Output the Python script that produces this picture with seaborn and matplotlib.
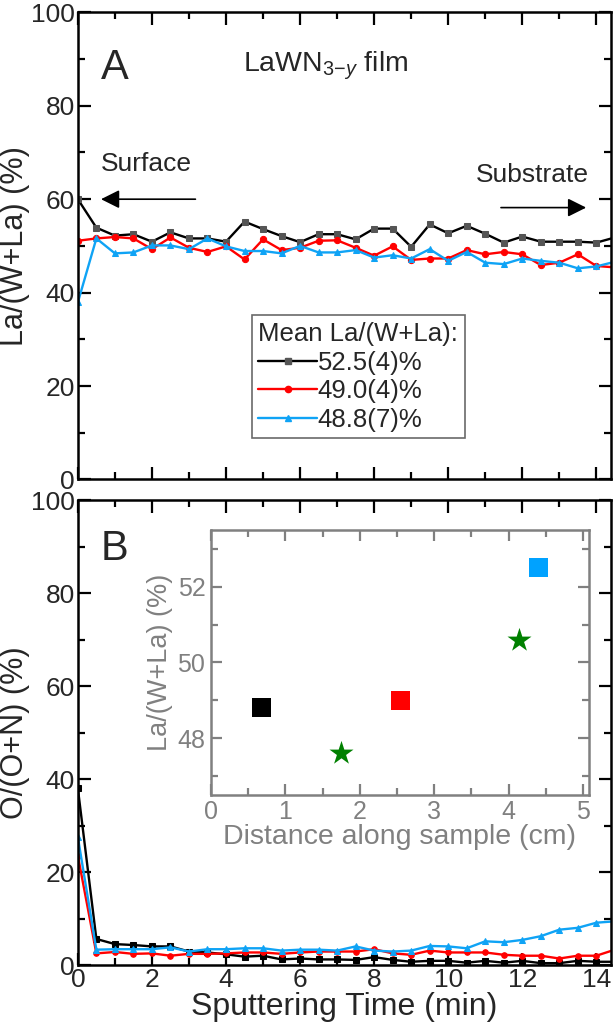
import matplotlib
matplotlib.use("Agg")
import matplotlib.pyplot as plt
from matplotlib.ticker import MultipleLocator
from matplotlib.lines import Line2D
import pandas as pd
import seaborn as sns

# sputtering time (min)
time_min = [0.0, 0.5, 1.0, 1.5, 2.0, 2.5, 3.0, 3.5, 4.0, 4.5, 5.0, 5.5, 6.0, 6.5, 7.0,
            7.5, 8.0, 8.5, 9.0, 9.5, 10.0, 10.5, 11.0, 11.5, 12.0, 12.5, 13.0, 13.5, 14.0, 14.5]

# panel A: La/(W+La) (%)
la_black = [60.0, 53.9, 52.2, 52.5, 50.9, 52.9, 51.6, 51.6, 50.9, 55.2, 53.6, 52.1, 50.8, 52.5, 52.5,
            51.4, 53.7, 53.7, 49.8, 54.6, 52.7, 54.3, 52.6, 50.7, 52.0, 50.9, 50.9, 50.9, 50.7, 51.8]
la_red = [51.1, 51.6, 51.9, 51.6, 49.3, 51.8, 49.6, 48.7, 49.9, 47.1, 51.4, 49.1, 49.6, 51.1, 51.2,
          49.6, 47.9, 49.9, 47.0, 47.3, 47.3, 49.1, 48.2, 48.7, 48.2, 45.9, 46.4, 48.2, 45.7, 45.4]
la_blue = [37.9, 51.6, 48.4, 48.6, 50.1, 50.1, 49.3, 51.6, 49.9, 48.9, 48.9, 48.4, 50.0, 48.6, 48.6,
           49.1, 47.5, 48.0, 47.3, 49.3, 46.8, 48.7, 46.4, 46.1, 47.3, 46.8, 46.4, 45.2, 45.6, 46.6]

# panel B: O/(O+N) (%)
o_black = [38.0, 5.6, 4.5, 4.3, 4.0, 4.0, 2.9, 2.7, 2.3, 1.8, 2.0, 1.2, 1.4, 1.2, 1.2,
           1.1, 1.7, 1.1, 0.7, 0.9, 0.9, 0.5, 0.9, 0.5, 0.9, 0.4, 0.4, 0.9, 0.7, 0.7]
o_red = [23.5, 2.5, 2.8, 2.4, 2.5, 2.0, 2.4, 2.4, 2.5, 2.7, 2.7, 2.4, 2.7, 2.9, 2.9,
         2.9, 3.4, 2.5, 2.2, 3.1, 2.7, 2.7, 2.7, 2.2, 2.0, 2.0, 1.4, 2.0, 2.0, 3.3]
o_blue = [27.5, 3.3, 3.4, 3.4, 3.4, 3.8, 2.9, 3.4, 3.4, 3.6, 3.6, 3.1, 3.3, 3.3, 3.1,
          4.0, 3.1, 2.9, 3.1, 4.1, 4.0, 3.6, 5.1, 4.9, 5.4, 6.2, 7.6, 8.0, 9.1, 9.4]

legend_labels = ["52.5(4)%", "49.0(4)%", "48.8(7)%"]

# inset: La/(W+La) vs distance along sample
inset_sq_x = [0.68, 2.55, 4.40]
inset_sq_y = [48.8, 49.0, 52.5]
inset_sq_colors = ["black", "red", "#00A2FF"]
inset_star_x = [1.75, 4.14]
inset_star_y = [47.6, 50.6]

BLUE = "#0FA3F5"
GREY = "#808080"

sns.set_theme(style="ticks")
plt.rcParams["font.family"] = ["Liberation Sans", "DejaVu Sans"]
plt.rcParams["mathtext.fontset"] = "custom"
plt.rcParams["mathtext.rm"] = "Liberation Sans"
plt.rcParams["mathtext.it"] = "Liberation Sans:italic"

fig = plt.figure(figsize=(6.13, 10.31), dpi=100)
axA = fig.add_axes([0.127, 0.535, 0.870, 0.453])
axB = fig.add_axes([0.127, 0.064, 0.870, 0.451])

dfA = pd.DataFrame({"t": time_min, "black": la_black, "red": la_red, "blue": la_blue})
dfB = pd.DataFrame({"t": time_min, "black": o_black, "red": o_red, "blue": o_blue})

styles = [("black", "black", "#555555", "s", 4.5),
          ("red", "red", "red", "o", 4.5),
          ("blue", BLUE, BLUE, "^", 5)]

for col, lc, mc, mk, ms in styles:
    sns.lineplot(data=dfA, x="t", y=col, ax=axA, color=lc, lw=1.7, marker=mk,
                 markersize=ms, markerfacecolor=mc, markeredgecolor=mc)

for col, lc, mc, mk, ms in styles:
    mc2 = "black" if col == "black" else mc
    sns.lineplot(data=dfB, x="t", y=col, ax=axB, color=lc, lw=1.7, marker=mk,
                 markersize=ms - 0.5, markerfacecolor=mc2, markeredgecolor=mc2)

for ax in (axA, axB):
    ax.set_xlim(0, 14.4)
    ax.set_ylim(0, 100)
    ax.xaxis.set_major_locator(MultipleLocator(2))
    ax.xaxis.set_minor_locator(MultipleLocator(1))
    ax.yaxis.set_major_locator(MultipleLocator(20))
    ax.yaxis.set_minor_locator(MultipleLocator(10))
    ax.tick_params(which="both", direction="in", top=True, right=True, color="black")
    ax.tick_params(which="major", length=9, width=1.6, labelsize=19, pad=2)
    ax.tick_params(which="minor", length=5, width=1.6)
    for s in ax.spines.values():
        s.set_linewidth(1.8)
        s.set_color("black")

axA.set_xlabel("")
axA.tick_params(labelbottom=False)
axA.set_ylabel("La/(W+La) (%)", fontsize=22, labelpad=1)
axB.set_xlabel("Sputtering Time (min)", fontsize=23, labelpad=0)
axB.set_ylabel("O/(O+N) (%)", fontsize=22, labelpad=1)

axA.text(0.62, 88, "A", fontsize=30, va="center", ha="left")
axA.text(6.7, 88.5, r"LaWN$_{3\mathregular{-}\mathit{y}}$ film", fontsize=20.5, va="center", ha="center")
axA.text(0.62, 67.5, "Surface", fontsize=19, va="center", ha="left")
axA.text(13.8, 65.2, "Substrate", fontsize=19, va="center", ha="right")
axA.annotate("", xy=(0.55, 60), xytext=(3.25, 60),
             arrowprops=dict(arrowstyle="-|>", color="black", lw=1.2, mutation_scale=28))
axA.annotate("", xy=(13.8, 58.2), xytext=(11.35, 58.2),
             arrowprops=dict(arrowstyle="-|>", color="black", lw=1.2, mutation_scale=28))

handles = [Line2D([], [], color="black", lw=1.7, marker="s", ms=5, mfc="#555555", mec="#555555"),
           Line2D([], [], color="red", lw=1.7, marker="o", ms=4.5, mfc="red", mec="red"),
           Line2D([], [], color=BLUE, lw=1.7, marker="^", ms=5, mfc=BLUE, mec=BLUE)]
leg = axA.legend(handles, legend_labels, title="Mean La/(W+La):", loc="upper left",
                 bbox_to_anchor=(0.411, 0.694), bbox_transform=fig.transFigure,
                 fontsize=18.5, title_fontsize=18.5, frameon=True, fancybox=False,
                 handlelength=2.3, handletextpad=0.0, labelspacing=0.18,
                 borderpad=0.25, borderaxespad=0, alignment="left")
leg.get_frame().set_edgecolor("#444444")
leg.get_frame().set_linewidth(1.2)

axB.text(0.62, 89.5, "B", fontsize=30, va="center", ha="left")

# inset
axI = fig.add_axes([0.344, 0.229, 0.617, 0.257])
inset_df = pd.DataFrame({"x": inset_sq_x, "y": inset_sq_y, "c": inset_sq_colors})
sns.scatterplot(data=inset_df, x="x", y="y", hue="c", palette=dict(zip(inset_sq_colors, inset_sq_colors)),
                marker="s", s=190, linewidth=0, legend=False, ax=axI)
sns.scatterplot(x=inset_star_x, y=inset_star_y, color="green", marker="*", s=330,
                linewidth=0, legend=False, ax=axI)
axI.set_xlim(0, 5.08)
axI.set_ylim(46.5, 53.5)
axI.xaxis.set_major_locator(MultipleLocator(1))
axI.xaxis.set_minor_locator(MultipleLocator(0.5))
axI.yaxis.set_major_locator(MultipleLocator(2))
axI.yaxis.set_minor_locator(MultipleLocator(1))
axI.tick_params(which="both", direction="in", top=True, right=True, color=GREY, labelcolor=GREY)
axI.tick_params(which="major", length=8, width=1.6, labelsize=18, pad=4)
axI.tick_params(which="minor", length=5, width=1.6)
for s in axI.spines.values():
    s.set_linewidth(1.8)
    s.set_color(GREY)
axI.set_xlabel("Distance along sample (cm)", fontsize=20.5, color=GREY, labelpad=0)
axI.set_ylabel("La/(W+La) (%)", fontsize=19.5, color=GREY, labelpad=3)

fig.savefig("out.png", dpi=100)
